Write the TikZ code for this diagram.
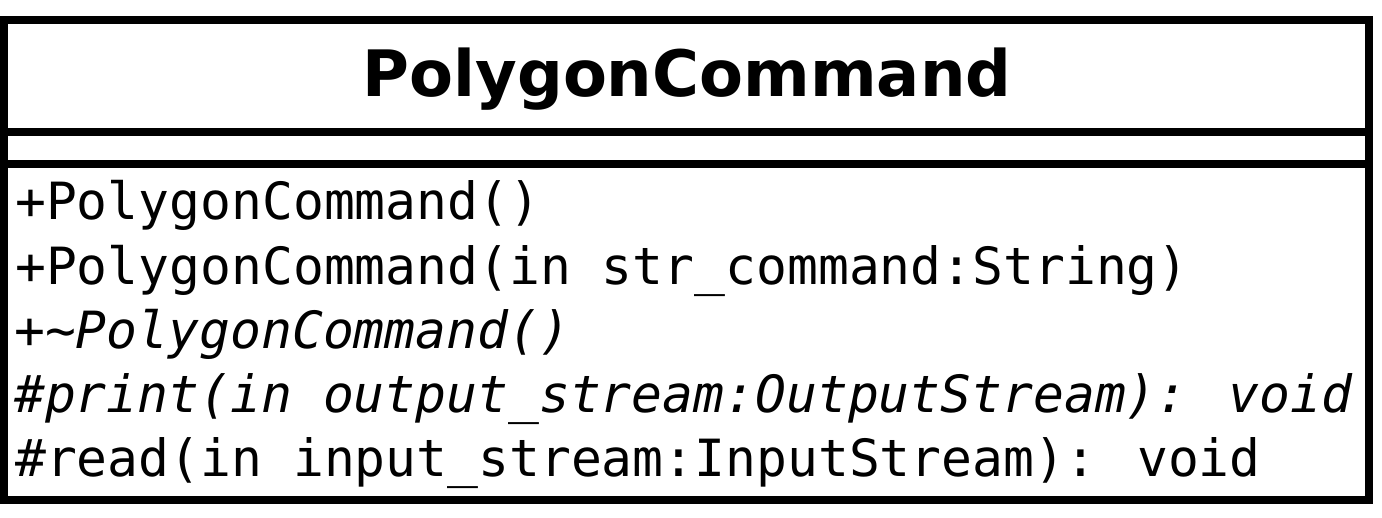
\documentclass[tikz,border=0pt]{standalone}
\usepackage{fontspec}
\newfontfamily\titlef{DejaVu Sans}
\newfontfamily\monof{DejaVu Sans Mono}
\begin{document}
\begin{tikzpicture}[x=1pt,y=-1pt,
  boxline/.style={line width=8pt},
  member/.style={anchor=base west,inner sep=0pt,font=\monof\fontsize{51.3}{60}\selectfont},
  title/.style={anchor=base,inner sep=0pt,font=\titlef\bfseries\fontsize{64}{72}\selectfont}]
\useasboundingbox (0,0) rectangle (1382,518);
\draw[boxline] (3.5,20) rectangle (1369,500);
\draw[boxline] (3.5,132) -- (1369,132);
\draw[boxline] (3.5,164) -- (1369,164);
\node[title] (t) at (687,97) {PolygonCommand};
\node[member] (m1) at (15,220) {+PolygonCommand()};
\node[member] (m2) at (15,284.2) {+PolygonCommand(in str\_command:String)};
\node[member] (m3) at (14,348.4) {\itshape +\char`\~PolygonCommand()};
\node[member] (m4) at (14,412.6) {\itshape \#print(in output\_stream:OutputStream): void};
\node[member] (m5) at (15,476.8) {\#read(in input\_stream:InputStream): void};
\end{tikzpicture}
\end{document}
